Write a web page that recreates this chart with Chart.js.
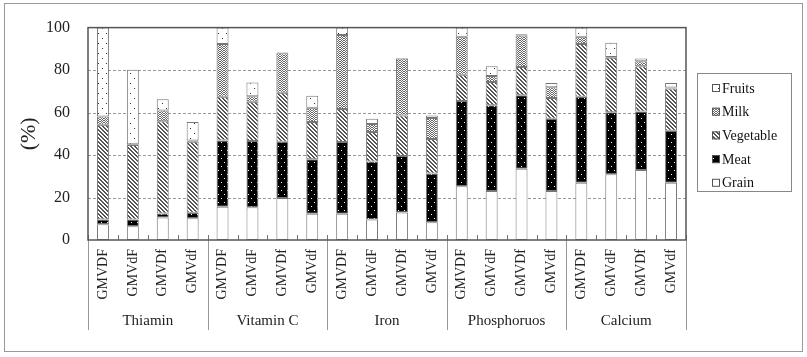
<!DOCTYPE html>
<html><head><meta charset="utf-8">
<script src="https://cdn.jsdelivr.net/npm/chart.js@4/dist/chart.umd.min.js"></script>
<style>html,body{margin:0;padding:0;background:#fff;}#wrap{width:807px;height:357px;position:relative}</style>
</head><body><div id="wrap"><canvas id="c" width="807" height="357"></canvas></div>
<script>
// ---- data ----
const nutrients = ['Thiamin', 'Vitamin C', 'Iron', 'Phosphoruos', 'Calcium'];
const diets = ['GMVDF', 'GMVdF', 'GMVDf', 'GMVdf'];
const yTicks = [0, 20, 40, 60, 80, 100];
const seriesNames = ['Grain', 'Meat', 'Vegetable', 'Milk', 'Fruits'];
const grain     = [7.4, 6.5, 10.6, 10.2,  15.7, 15.4, 19.8, 12.3,  12.3, 9.6, 13.0, 8.3,  25.3, 23.1, 33.6, 23.1,  27.0, 30.9, 33.0, 26.9];
const meat      = [2.3, 3.2, 1.9, 2.6,    31.1, 31.2, 26.5, 25.7,  33.8, 27.4, 26.5, 23.0, 40.1, 40.3, 34.6, 34.0,  40.4, 29.3, 27.5, 24.5];
const vegetable = [44.6, 35.0, 43.4, 33.5, 20.6, 18.5, 23.0, 17.6, 15.6, 13.9, 19.1, 16.2, 12.4, 11.0, 13.3, 9.7,  24.9, 25.6, 21.3, 19.9];
const milk      = [3.9, 0.4, 5.1, 0.6,    24.9, 2.6, 18.6, 6.7,    34.8, 3.7, 26.9, 9.9,   17.9, 2.8, 14.8, 5.1,    3.4, 0.3, 2.3, 0.5];
const fruits    = [41.8, 35.1, 5.3, 8.7,  7.7, 6.5, 0.4, 5.6,      3.5, 2.5, 0.2, 1.2,     4.3, 4.6, 0.6, 2.0,      4.3, 6.8, 1.4, 2.1];

const categories = nutrients.flatMap(() => diets);
const FONT = "'Liberation Serif', 'Times New Roman', serif";

// ---- patterns ----
const mainCtx = document.getElementById('c').getContext('2d');
function makePattern(w, h, bg, fg, pixels) {
  const t = document.createElement('canvas'); t.width = w; t.height = h;
  const x = t.getContext('2d');
  x.fillStyle = bg; x.fillRect(0, 0, w, h);
  x.fillStyle = fg;
  pixels.forEach(([px, py]) => x.fillRect(px, py, 1, 1));
  return mainCtx.createPattern(t, 'repeat');
}
const vegPix = []; for (let i = 0; i < 4; i++) { vegPix.push([i, i]); vegPix.push([(i + 1) % 4, i]); }
const milkPix = []; for (let i = 0; i < 8; i++) { const y = i < 4 ? i : 7 - i; milkPix.push([i, y]); milkPix.push([i, (y + 2) % 4]); }
const fills = {
  Grain: '#ffffff',
  Meat: makePattern(6, 8, '#000000', '#ffffff', [[2, 2], [5, 6]]),
  Vegetable: makePattern(4, 4, '#ffffff', '#555555', vegPix),
  Milk: makePattern(8, 4, '#ffffff', '#666666', milkPix),
  Fruits: makePattern(8, 10, '#ffffff', '#333333', [[2, 3], [6, 8]])
};
const values = { Grain: grain, Meat: meat, Vegetable: vegetable, Milk: milk, Fruits: fruits };

const datasets = seriesNames.map(n => ({
  label: n, data: values[n], backgroundColor: fills[n],
  borderColor: '#777', borderWidth: 1, borderSkipped: false,
  barPercentage: 0.4, categoryPercentage: 1.0
}));

const deco = {
  id: 'deco',
  beforeDraw(chart) {
    const c = chart.ctx;
    c.save();
    c.fillStyle = '#fff'; c.fillRect(0, 0, chart.width, chart.height);
    c.strokeStyle = '#999'; c.lineWidth = 1;
    c.strokeRect(4.5, 3.5, 798, 348);
    c.restore();
  },
  beforeDatasetsDraw(chart) {
    const c = chart.ctx, a = chart.chartArea, y = chart.scales.y;
    c.save();
    c.strokeStyle = '#999'; c.lineWidth = 1; c.setLineDash([3, 2]);
    yTicks.forEach(v => {
      if (v === yTicks[0] || v === yTicks[yTicks.length - 1]) return;
      const py = Math.round(y.getPixelForValue(v)) + 0.5;
      c.beginPath(); c.moveTo(a.left, py); c.lineTo(a.right, py); c.stroke();
    });
    c.restore();
  },
  afterDatasetsDraw(chart) {
    const c = chart.ctx, a = chart.chartArea, x = chart.scales.x;
    c.save();
    // category tick marks
    c.strokeStyle = '#777'; c.lineWidth = 1;
    for (let i = 0; i <= categories.length; i++) {
      const px = Math.round(x.getPixelForValue(i - 0.5)) + 0.5;
      c.beginPath(); c.moveTo(px, a.bottom); c.lineTo(px, a.bottom - 5); c.stroke();
    }
    // group separators and labels
    c.strokeStyle = '#999';
    for (let g = 0; g <= nutrients.length; g++) {
      const px = Math.round(x.getPixelForValue(g * diets.length - 0.5)) + 0.5;
      c.beginPath(); c.moveTo(px, a.bottom); c.lineTo(px, 330); c.stroke();
    }
    c.fillStyle = '#222'; c.font = '15px ' + FONT; c.textAlign = 'center'; c.textBaseline = 'middle';
    nutrients.forEach((n, g) => {
      const l = x.getPixelForValue(g * diets.length - 0.5), r = x.getPixelForValue((g + 1) * diets.length - 0.5);
      c.fillText(n, (l + r) / 2, 321);
    });
    // plot border
    c.strokeStyle = '#555'; c.lineWidth = 1.5;
    c.strokeRect(a.left, a.top, a.right - a.left, a.bottom - a.top);
    // legend
    c.lineWidth = 1; c.strokeStyle = '#888';
    c.strokeRect(697.5, 73.5, 94, 118);
    c.font = '14px ' + FONT; c.textAlign = 'left'; c.textBaseline = 'middle';
    const order = [...chart.data.datasets].reverse();
    order.forEach((ds, i) => {
      const cy = 88 + i * 23.7;
      c.fillStyle = ds.backgroundColor; c.fillRect(712, cy - 4, 8, 8);
      c.strokeStyle = '#555'; c.strokeRect(712.5, cy - 3.5, 7, 7);
      c.fillStyle = '#111'; c.fillText(ds.label, 722, cy + 1);
    });
    c.restore();
  }
};

new Chart(document.getElementById('c'), {
  type: 'bar',
  data: { labels: categories, datasets },
  options: {
    responsive: false, animation: false, devicePixelRatio: 1,
    layout: { padding: { top: 24, right: 121, bottom: 0, left: 0 } },
    plugins: { legend: { display: false }, tooltip: { enabled: false } },
    scales: {
      x: {
        stacked: true,
        grid: { display: false, drawTicks: false },
        border: { display: false },
        ticks: { autoSkip: false, maxRotation: 90, minRotation: 90, padding: 9, color: '#222', font: { family: FONT, size: 14 } },
        afterFit(s) { s.height = 117; }
      },
      y: {
        stacked: true, min: 0, max: 100,
        grid: { display: false, drawTicks: false },
        border: { display: false },
        afterBuildTicks(s) { s.ticks = yTicks.map(v => ({ value: v })); },
        ticks: { padding: 18, color: '#222', font: { family: FONT, size: 16 } },
        title: { display: true, text: '(%)', color: '#222', font: { family: FONT, size: 22 }, padding: { top: 16, bottom: 0 } },
        afterFit(s) { s.width = 88; }
      }
    }
  },
  plugins: [deco]
});
</script></body></html>
